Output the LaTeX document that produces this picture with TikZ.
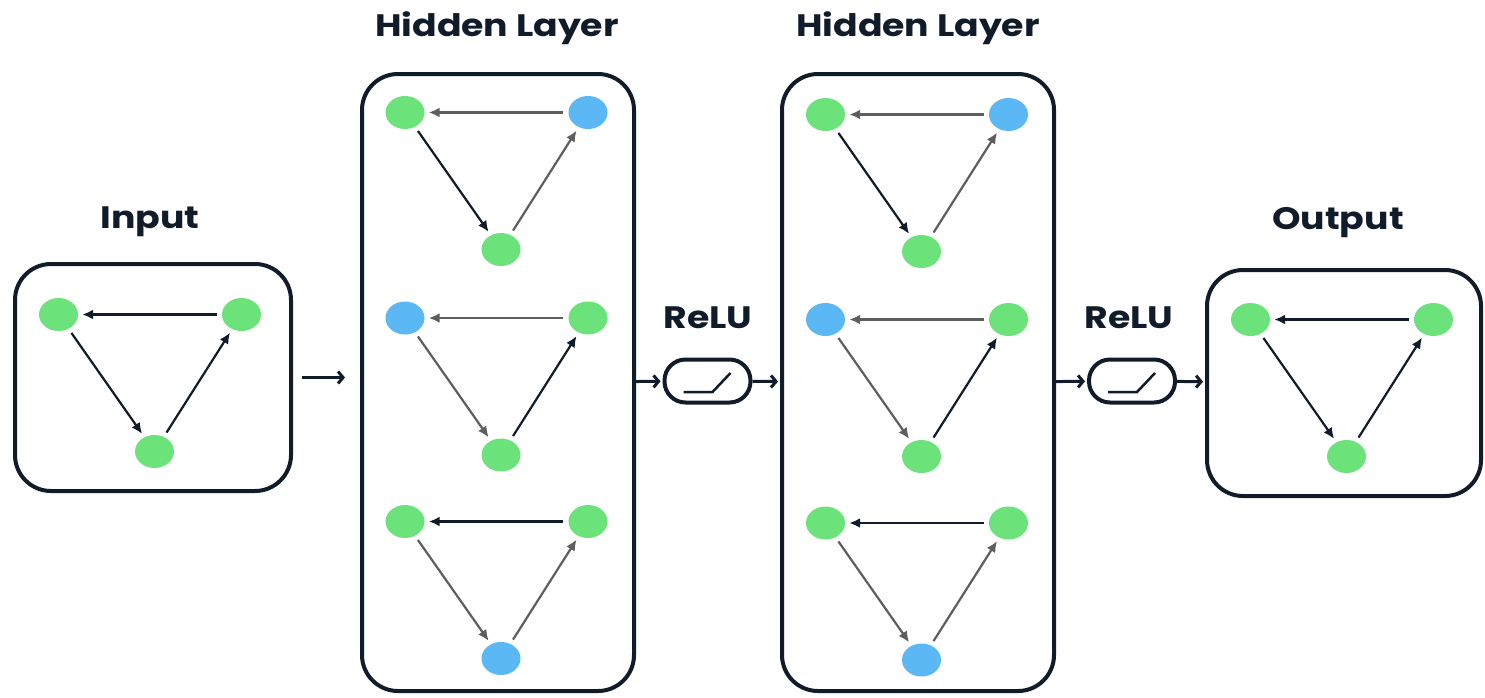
\documentclass[tikz,border=0pt]{standalone}
\usepackage{fontspec}
\setmainfont{Poppins}
\usetikzlibrary{arrows.meta,positioning,shapes.geometric}
\definecolor{ink}{HTML}{111C2B}
\definecolor{leaf}{HTML}{6CE27A}
\definecolor{sky}{HTML}{5BB8F5}
\definecolor{wire}{HTML}{5E5E5E}
\newcommand{\wide}[1]{\scalebox{1.17}[1]{#1}}
\tikzset{
  panel/.style={draw=ink,line width=4pt,rounded corners=36pt,fill=white,inner sep=0pt},
  ttl/.style={font=\fontsize{31}{36}\selectfont\bfseries,text=ink},
  neuron/.style={ellipse,fill=#1,minimum width=39pt,minimum height=33pt,inner sep=0pt},
  edg/.style={draw=#1,line width=2.2pt,-{Latex[length=11pt,width=10pt]},shorten <=5pt,shorten >=4pt},
  edg/.default={ink},
  flow/.style={draw=ink,line width=3pt,-{Straight Barb[length=5pt,width=12pt]}},
  pill/.style={draw=ink,line width=4pt,rounded corners=21pt,minimum width=86pt,minimum height=43pt,inner sep=0pt},
}
% triangle of three neurons: #1 name, #2 left neuron, #3-#5 fills (left, right, bottom), #6-#8 edge colours (top, left, right)
\newcommand{\trigraph}[8]{%
  \begin{scope}[shift={(#2)}]
    \node[neuron=#3] (#1-l) at (0,0) {};
    \node[neuron=#4] (#1-r) at (183,0) {};
    \node[neuron=#5] (#1-b) at (96,137) {};
  \end{scope}
  \draw[edg=#6] (#1-r) -- (#1-l);
  \draw[edg=#7] (#1-l) -- (#1-b);
  \draw[edg=#8] (#1-b) -- (#1-r);
}

\begin{document}
\begin{tikzpicture}[x=1pt,y=-1pt]
 \useasboundingbox (0,0) rectangle (1485,697);
 % layer boxes
 \node[panel,minimum width=276pt,minimum height=227pt] (inp) at (153,377.5) {};
 \node[panel,minimum width=272pt,minimum height=617pt] (hid1) at (498,382.5) {};
 \node[panel,minimum width=272pt,minimum height=617pt] (hid2) at (918,382.5) {};
 \node[panel,minimum width=274pt,minimum height=226pt] (out) at (1344,383) {};
 % titles
 \node[ttl] (t-inp) at (150,222) {\wide{Input}};
 \node[ttl] (t-hid1) at (497,28) {\wide{Hidden Layer}};
 \node[ttl] (t-hid2) at (918,28) {\wide{Hidden Layer}};
 \node[ttl] (t-out) at (1338,223) {\wide{Output}};
 \node[ttl] (t-relu1) at (708,318) {\wide{ReLU}};
 \node[ttl] (t-relu2) at (1129,318) {\wide{ReLU}};
 % activation blocks
 \node[pill] (relu1) at (707.5,381) {};
 \node[pill] (relu2) at (1132,381) {};
 \foreach \r in {relu1,relu2}
   \draw[ink,line width=2.5pt] (\r.center) ++(-24,11) -- ++(29,0) -- ++(18,-19);
 % graphs
 \trigraph{a}{58.5,314.5}{leaf}{leaf}{leaf}{ink}{ink}{ink}
 \trigraph{b1}{405,112.5}{leaf}{sky}{leaf}{wire}{ink}{wire}
 \trigraph{b2}{405,318}{sky}{leaf}{leaf}{wire}{wire}{ink}
 \trigraph{b3}{405,521.5}{leaf}{leaf}{sky}{ink}{wire}{wire}
 \trigraph{c1}{825.5,114.5}{leaf}{sky}{leaf}{wire}{ink}{wire}
 \trigraph{c2}{825.5,319.5}{sky}{leaf}{leaf}{wire}{wire}{ink}
 \trigraph{c3}{825.5,523}{leaf}{leaf}{sky}{ink}{wire}{wire}
 \trigraph{d}{1250.5,319.5}{leaf}{leaf}{leaf}{ink}{ink}{ink}
 % flow between layers
 \draw[flow,shorten <=9pt,shorten >=15pt] (inp) -- (inp -| hid1.west);
 \draw[flow,shorten >=2pt] (hid1) -- (relu1);
 \draw[flow,shorten >=2pt] (relu1) -- (hid2);
 \draw[flow,shorten >=2pt] (hid2) -- (relu2);
 \draw[flow,shorten >=2pt] (relu2) -- (out);
\end{tikzpicture}
\end{document}
